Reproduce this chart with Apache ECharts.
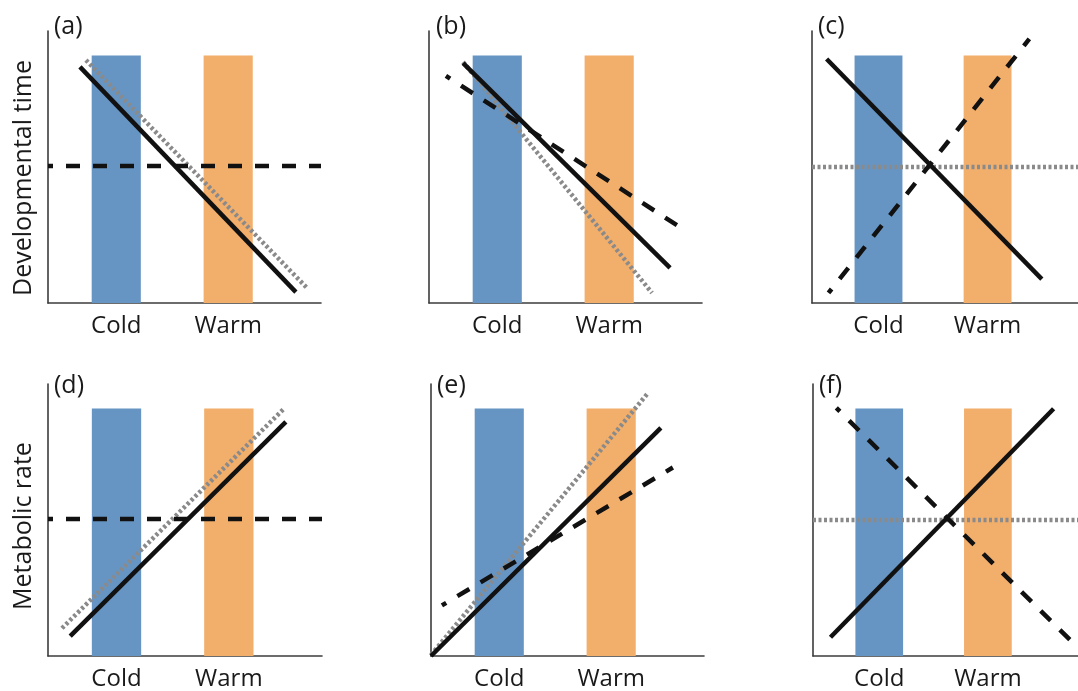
<!DOCTYPE html>
<html>
<head>
<meta charset="utf-8">
<script src="https://cdn.jsdelivr.net/npm/echarts@6/dist/echarts.min.js"></script>
<style>
html,body{margin:0;padding:0;background:#fff;}
#chart{width:1078px;height:691px;}
</style>
</head>
<body>
<div id="chart"></div>
<script>
// ---- data ----
const categories = ['Cold', 'Warm'];
const categoryCenters = [25, 66];
const coldBand = [16, 34];
const warmBand = [57, 75];
const bandTop = 91;
const panelLabels = ['(a)', '(b)', '(c)', '(d)', '(e)', '(f)'];
const yNames = ['Developmental time', 'Metabolic rate'];

// each line: two end points [x, y] in panel units (0-100)
const aSolid  = [[11.7, 86.8], [90.8, 4.0]];
const aDotted = [[13.9, 89.3], [94.9, 5.5]];
const aDashed = [[0, 50.4], [100, 50.4]];

const bSolid  = [[12.5, 88.2], [88.3, 12.9]];
const bDotted = [[12.5, 88.6], [81.7, 3.7]];
const bDashed = [[6.2, 83.5], [93.0, 27.2]];

const cSolid  = [[5.5, 89.7], [86.4, 8.8]];
const cDotted = [[0, 50.0], [100, 50.0]];
const cDashed = [[6.2, 3.7], [81.7, 97.1]];

const dSolid  = [[8.1, 7.3], [86.8, 86.1]];
const dDotted = [[5.1, 10.2], [86.1, 90.9]];
const dDashed = [[0, 50.4], [100, 50.4]];

const eSolid  = [[0, 0], [84.2, 83.9]];
const eDotted = [[0, 0.4], [79.5, 96.7]];
const eDashed = [[4.0, 18.6], [88.6, 69.3]];

const fSolid  = [[6.6, 6.9], [90.8, 90.9]];
const fDotted = [[0, 50.0], [100, 50.0]];
const fDashed = [[8.8, 91.2], [100, 3.0]];

const panels = [
  {solid: aSolid, dotted: aDotted, dashed: aDashed},
  {solid: bSolid, dotted: bDotted, dashed: bDashed},
  {solid: cSolid, dotted: cDotted, dashed: cDashed},
  {solid: dSolid, dotted: dDotted, dashed: dDashed},
  {solid: eSolid, dotted: eDotted, dashed: eDashed},
  {solid: fSolid, dotted: fDotted, dashed: fDashed}
];

// ---- layout / style ----
const FONT = 'Open Sans';
const gridPos = [
  {left: 48,  top: 31,  width: 273, height: 272},
  {left: 429, top: 31,  width: 273, height: 272},
  {left: 812, top: 31,  width: 273, height: 272},
  {left: 48,  top: 384, width: 274, height: 274},
  {left: 431, top: 384, width: 273, height: 274},
  {left: 813, top: 384, width: 273, height: 274}
];
const labelPos = [
  {left: 54, top: 14}, {left: 436, top: 14}, {left: 818, top: 14},
  {left: 54, top: 373}, {left: 437, top: 373}, {left: 819, top: 373}
];
const namePadding = [[0, 22, 0, 0], [0, 12, 0, 0]];
const BLUE = '#6795c3';
const ORANGE = '#f2ae6b';
const AXIS = '#3c3c3c';

const grid = [], xAxis = [], yAxis = [], series = [], title = [];
panels.forEach((p, i) => {
  grid.push(Object.assign({containLabel: false}, gridPos[i]));
  xAxis.push({
    type: 'value', gridIndex: i, min: 0, max: 100,
    axisLine: {show: true, onZero: false, lineStyle: {color: AXIS, width: 1.6}},
    axisTick: {show: false},
    splitLine: {show: false},
    axisLabel: {
      customValues: categoryCenters,
      formatter: v => categories[categoryCenters.indexOf(v)] || '',
      fontFamily: FONT, fontSize: 24, color: '#1a1a1a', margin: 11
    }
  });
  const ya = {
    type: 'value', gridIndex: i, min: 0, max: 100,
    axisLine: {show: true, onZero: false, lineStyle: {color: AXIS, width: 1.6}},
    axisTick: {show: false},
    splitLine: {show: false},
    axisLabel: {show: false}
  };
  if (i % 3 === 0) {
    ya.name = yNames[i / 3];
    ya.nameLocation = 'middle';
    ya.nameGap = 12;
    ya.nameTextStyle = {fontFamily: FONT, fontSize: 25, color: '#1a1a1a', padding: namePadding[i / 3]};
  }
  yAxis.push(ya);
  title.push({
    text: panelLabels[i], left: labelPos[i].left, top: labelPos[i].top, padding: 0,
    textStyle: {fontFamily: FONT, fontSize: 25, fontWeight: 'normal', color: '#1a1a1a'}
  });
  // bands
  series.push({
    type: 'line', xAxisIndex: i, yAxisIndex: i, data: [], silent: true, z: 1,
    markArea: {
      silent: true,
      data: [
        [{xAxis: coldBand[0], yAxis: 0, itemStyle: {color: BLUE, opacity: 1}}, {xAxis: coldBand[1], yAxis: bandTop}],
        [{xAxis: warmBand[0], yAxis: 0, itemStyle: {color: ORANGE, opacity: 1}}, {xAxis: warmBand[1], yAxis: bandTop}]
      ]
    }
  });
  const base = {type: 'line', xAxisIndex: i, yAxisIndex: i, symbol: 'none', silent: true, animation: false};
  series.push(Object.assign({}, base, {
    data: p.dotted, z: 3,
    lineStyle: {color: '#8a8a8a', width: 4.5, type: [3, 2.5], cap: 'butt'}
  }));
  series.push(Object.assign({}, base, {
    data: p.dashed, z: 4,
    lineStyle: {color: '#111', width: 4.5, type: [14, 13], dashOffset: 9, cap: 'butt'}
  }));
  series.push(Object.assign({}, base, {
    data: p.solid, z: 5,
    lineStyle: {color: '#111', width: 4.5, cap: 'butt'}
  }));
});

const chart = echarts.init(document.getElementById('chart'), null, {renderer: 'canvas'});
chart.setOption({animation: false, backgroundColor: '#fff', title, grid, xAxis, yAxis, series});
</script>
</body>
</html>
